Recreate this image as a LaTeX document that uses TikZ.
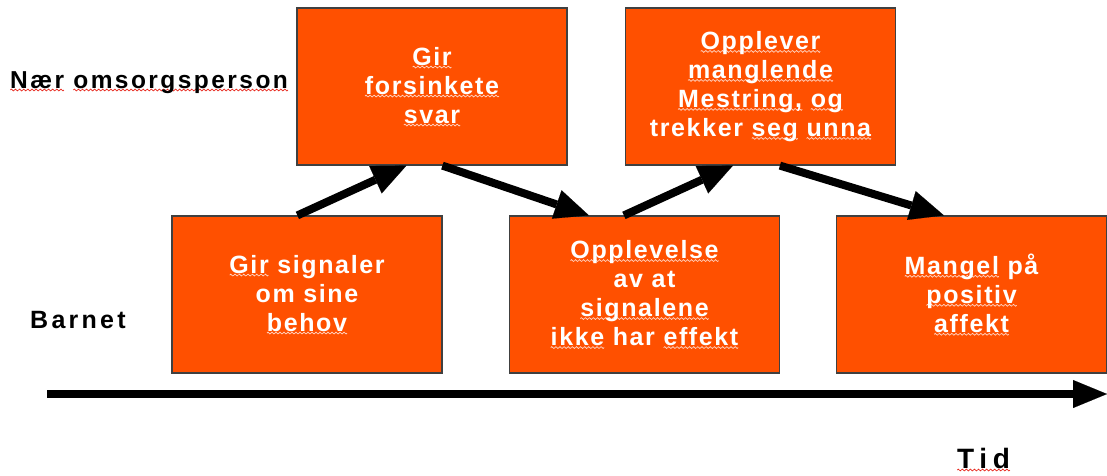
\documentclass[tikz,border=0pt]{standalone}
\usepackage{fontspec}
\setmainfont{Liberation Sans}
\newfontfamily\boxfont{Liberation Sans}[LetterSpace=6.5]
\newfontfamily\labelfont{Liberation Sans}[LetterSpace=10]
\newfontfamily\childfont{Liberation Sans}[LetterSpace=13]
\newfontfamily\axisfont{Liberation Sans}[LetterSpace=20]
\usetikzlibrary{arrows.meta,calc}

\definecolor{boxfill}{RGB}{255,80,0}
\definecolor{boxline}{RGB}{64,64,64}
\definecolor{spellred}{RGB}{230,40,30}
\definecolor{spellpale}{RGB}{255,215,200}

% one period of the wavy spell-check underline, kept in a box
\newsavebox\wavered
\newsavebox\wavepale
\sbox\wavered{\tikz{\path[use as bounding box] (0,-1pt) rectangle (4pt,1pt);
  \draw[spellred, line width=0.7pt] (0,0) sin (1pt,0.9pt) cos (2pt,0) sin (3pt,-0.9pt) cos (4pt,0);}}
\sbox\wavepale{\tikz{\path[use as bounding box] (0,-1pt) rectangle (4pt,1pt);
  \draw[spellpale, line width=0.7pt] (0,0) sin (1pt,0.9pt) cos (2pt,0) sin (3pt,-0.9pt) cos (4pt,0);}}
\newcommand\wavy[1]{\setbox0\hbox{#1}\rlap{\lower3pt\hbox to\wd0{\xleaders\copy\wavered\hfil}}\box0\relax}
\newcommand\wavyw[1]{\setbox0\hbox{#1}\rlap{\lower3pt\hbox to\wd0{\xleaders\copy\wavepale\hfil}}\box0\relax}

\tikzset{
  stagebox/.style={rectangle, draw=boxline, line width=1.2pt, fill=boxfill,
    minimum width=270pt, minimum height=157pt, inner sep=0pt, align=center,
    text=white, font=\boxfont\bfseries\fontsize{25}{29}\selectfont},
  rowlabel/.style={anchor=base west, inner sep=0pt,
    font=\labelfont\bfseries\fontsize{24.5}{28}\selectfont},
  flow/.style={line width=8pt, -{Triangle[length=34pt, width=30pt, line width=0.1pt]}},
  timeline/.style={line width=8pt, -{Triangle[length=34pt, width=28pt, line width=0.1pt]}}
}

\begin{document}
\begin{tikzpicture}[x=1pt, y=-1pt]
  \useasboundingbox (0,0) rectangle (1107,475);

  % row labels
  \node[rowlabel] (carer) at (10,88) {\wavy{Nær} \wavy{omsorgsperson}};
  \node[rowlabel, font=\childfont\bfseries\fontsize{25}{28}\selectfont] (child) at (30,328) {Barnet};

  % stages
  \node[stagebox] (b1) at (307,294.5) {\wavyw{Gir} signaler\\om sine\\\wavyw{behov}};
  \node[stagebox] (b2) at (432,86.5) {\wavyw{Gir}\\\wavyw{forsinkete}\\\wavyw{svar}};
  \node[stagebox] (b3) at (644.5,294.5) {\wavyw{Opplevelse}\\av at\\\wavyw{signalene}\\\wavyw{ikke} har \wavyw{effekt}};
  \node[stagebox] (b4) at (760.5,86.5) {\wavyw{Opplever}\\\wavyw{manglende}\\\wavyw{Mestring,} \wavyw{og}\\trekker \wavyw{seg} \wavyw{unna}};
  \node[stagebox] (b5) at (971.5,294.5) {\wavyw{Mangel} på\\\wavyw{positiv}\\\wavyw{affekt}};

  % transitions between stages
  \draw[flow] ([xshift=126pt]b1.north west) -- ([xshift=110pt]b2.south west);
  \draw[flow] ([xshift=146pt]b2.south west) -- ([xshift=80pt]b3.north west);
  \draw[flow] ([xshift=115pt]b3.north west) -- ([xshift=108pt]b4.south west);
  \draw[flow] ([xshift=155pt]b4.south west) -- ([xshift=108pt]b5.north west);

  % time axis
  \coordinate (t0) at (47,394);
  \coordinate (t1) at (1107,394);
  \draw[timeline] (t0) -- (t1);
  \node[rowlabel, font=\axisfont\bfseries\fontsize{28}{32}\selectfont] (time) at (957,468) {\wavy{Tid}};
\end{tikzpicture}
\end{document}
